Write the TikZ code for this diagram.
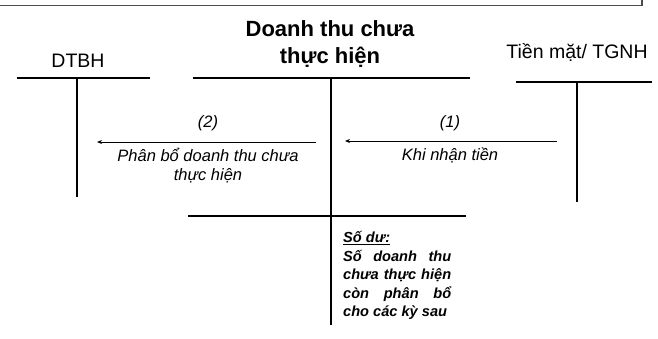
\documentclass[tikz,border=0pt]{standalone}
\usepackage{fontspec}
\setmainfont{Liberation Sans}
\usetikzlibrary{arrows.meta, positioning}

\begin{document}
\begin{tikzpicture}[x=1pt, y=-1pt,
	tline/.style={line width=2.6pt},
	flow/.style={-{Stealth[length=5pt, width=4pt]}, line width=0.8pt},
	acct/.style={font=\fontsize{19.5}{21}\selectfont},
	note/.style={font=\fontsize{16.5}{19}\selectfont\itshape, align=center},
	balance/.style={font=\fontsize{14.6}{18.6}\selectfont\bfseries\itshape, text width=108pt, align=justify, inner sep=0pt, anchor=north west}]
	\useasboundingbox (0,0) rectangle (658,338);

	\draw [gray!60!black, line width=1.2pt] (0,5.5) -- (642,5.5) -- (642,0);

	\node [acct] (dtbh) at (78,61) {DTBH};
	\node [font=\fontsize{22}{27}\selectfont\bfseries, align=center] (dtcth) at (330,44) {Doanh thu chưa\\thực hiện};
	\node [acct] (tgnh) at (577,52) {Tiền mặt/ TGNH};

	\coordinate (dL) at (17,78);
	\coordinate (dR) at (150,78);
	\coordinate (dT) at (77,78);
	\coordinate (dB) at (77,197);

	\coordinate (mL) at (193,78);
	\coordinate (mR) at (470,78);
	\coordinate (mT) at (331,78);
	\coordinate (mB) at (331,325);
	\coordinate (sL) at (188,216);
	\coordinate (sR) at (466,216);

	\coordinate (tL) at (516,82);
	\coordinate (tR) at (652,82);
	\coordinate (tT) at (577,82);
	\coordinate (tB) at (577,202);

	\foreach \a/\b in {dL/dR, dT/dB, mL/mR, mT/mB, sL/sR, tL/tR, tT/tB}
	{
		\draw [tline] (\a) -- (\b);
	}

	\coordinate (f1s) at (557,141);
	\coordinate (f1e) at (345,141);
	\coordinate (f2s) at (316,142);
	\coordinate (f2e) at (97,142);

	\draw [flow] (f1s) -- (f1e);
	\draw [flow] (f2s) -- (f2e);

	\node [note] (n1) at (450,123) {(1)};
	\node [note] (k1) at (450,155) {Khi nhận tiền};
	\node [note] (n2) at (208,123) {(2)};
	\node [note] (k2) at (208,166) {Phân bổ doanh thu chưa\\thực hiện};

	\node [balance] (sodu) at (343,231) {\underline{Số dư:}\\Số doanh thu\linebreak chưa thực hiện\linebreak còn phân bổ\linebreak cho các kỳ sau};
\end{tikzpicture}
\end{document}
